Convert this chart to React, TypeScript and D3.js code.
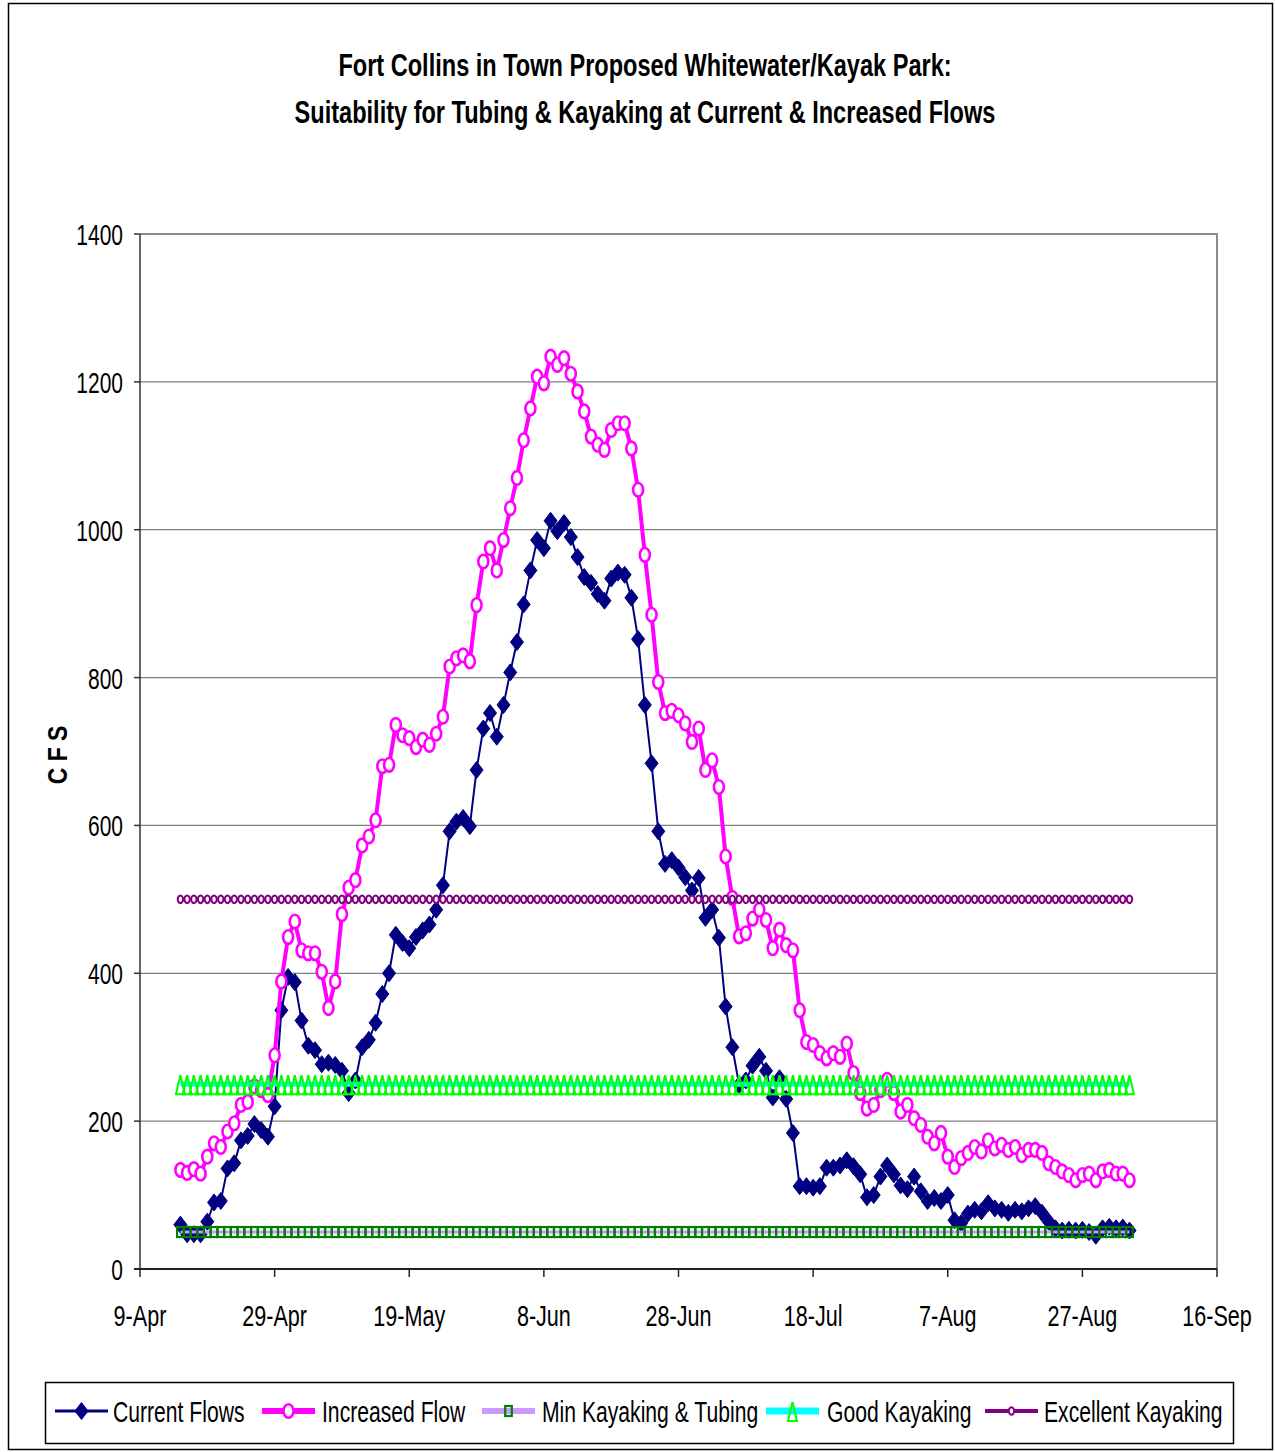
import React from "react";
import * as d3 from "d3";

// Daily flow readings (cfs), starting 15-Apr and running through 3-Sep.
const firstReading = "2007-04-15";
const currentFlows = [
  60, 47, 47, 47, 64, 90, 92, 136, 143, 174,
  180, 196, 188, 179, 220, 350, 395, 388, 336, 302,
  296, 277, 279, 276, 268, 238, 255, 300, 310, 333,
  372, 400, 452, 441, 434, 449, 458, 466, 486, 519,
  592, 605, 610, 599, 675, 731, 752, 720, 763, 807,
  848, 899, 945, 986, 975, 1012, 998, 1009, 990, 963,
  936, 928, 913, 904, 934, 942, 939, 908, 852, 763,
  684, 592, 548, 553, 543, 530, 512, 529, 475, 486,
  448, 355, 300, 249, 255, 275, 287, 268, 232, 258,
  230, 184, 112, 112, 110, 112, 137, 137, 140, 147,
  139, 128, 97, 100, 125, 140, 128, 113, 108, 125,
  105, 92, 96, 92, 100, 66, 62, 75, 80, 78,
  89, 82, 80, 76, 80, 78, 82, 85, 76, 64,
  55, 52, 53, 52, 53, 50, 45, 55, 57, 55,
  56, 52,
];
const increasedFlows = [
  134, 130, 135, 129, 152, 170, 165, 186, 197, 222,
  226, 247, 242, 235, 289, 389, 449, 470, 431, 427,
  427, 402, 353, 389, 480, 516, 526, 573, 585, 607,
  680, 682, 736, 722, 718, 706, 716, 709, 724, 747,
  815, 826, 830, 822, 898, 957, 975, 945, 986, 1029,
  1070, 1121, 1164, 1207, 1198, 1234, 1223, 1232, 1211, 1187,
  1160, 1126, 1115, 1108, 1135, 1144, 1144, 1110, 1054, 966,
  885, 794, 752, 755, 749, 738, 713, 731, 675, 688,
  652, 558, 502, 450, 454, 474, 486, 472, 434, 459,
  438, 431, 350, 307, 303, 292, 285, 292, 287, 305,
  265, 238, 217, 222, 242, 256, 238, 213, 222, 204,
  195, 179, 170, 184, 152, 138, 150, 157, 165, 159,
  174, 163, 168, 161, 165, 154, 161, 161, 157, 143,
  138, 132, 127, 120, 127, 129, 120, 132, 134, 129,
  129, 120,
];

// Suitability thresholds (cfs)
const minKayakingTubing = 50;
const goodKayaking = 250;
const excellentKayaking = 500;

const axisStart = "2007-04-09";
const axisEnd = "2007-09-16";
const xTickLabels = ["9-Apr", "29-Apr", "19-May", "8-Jun", "28-Jun", "18-Jul", "7-Aug", "27-Aug", "16-Sep"];
const yTicks = [0, 200, 400, 600, 800, 1000, 1200, 1400];

const titleLines = [
  "Fort Collins in Town Proposed Whitewater/Kayak Park:",
  "Suitability for Tubing & Kayaking at Current & Increased Flows",
];

const seriesNames = ["Current Flows", "Increased Flow", "Min Kayaking & Tubing", "Good Kayaking", "Excellent Kayaking"];

const W = 1275;
const H = 1452;
const plot = { left: 140, right: 1217, top: 234, bottom: 1269 };
const FONT = "'Liberation Sans', Arial, sans-serif";
const NARROW = 0.72; // horizontal squeeze for axis labels
const TITLE_NARROW = 0.76;
const LEGEND_NARROW = 0.705;

const NAVY = "#000080";
const MAGENTA = "#FF00FF";
const LAVENDER = "#CC99FF";
const GREEN = "#008000";
const LIME = "#00FF00";
const CYAN = "#00FFFF";
const PURPLE = "#800080";

const parse = (s: string) => new Date(s + "T00:00:00Z");

// marker shapes
const diamondPath = "M0,-8.5L6.5,0L0,8.5L-6.5,0Z";
const trianglePath = "M0,-9L4.5,10L-4.5,10Z";

function Diamond({ cx, cy }: { cx: number; cy: number }) {
  return <path d={diamondPath} transform={`translate(${cx},${cy})`} fill={NAVY} stroke={NAVY} strokeWidth={1} />;
}
function BigRing({ cx, cy }: { cx: number; cy: number }) {
  return <ellipse cx={cx} cy={cy} rx={5} ry={6.8} fill="white" stroke={MAGENTA} strokeWidth={2.6} />;
}
function Square({ cx, cy }: { cx: number; cy: number }) {
  return <rect x={cx - 3.3} y={cy - 5} width={6.6} height={10} fill="none" stroke={GREEN} strokeWidth={2.2} />;
}
function Triangle({ cx, cy }: { cx: number; cy: number }) {
  return <path d={trianglePath} transform={`translate(${cx},${cy})`} fill="none" stroke={LIME} strokeWidth={2} />;
}
function SmallRing({ cx, cy }: { cx: number; cy: number }) {
  return <ellipse cx={cx} cy={cy} rx={2.7} ry={3.8} fill="white" stroke={PURPLE} strokeWidth={2} />;
}

export default function App() {
  const x = d3.scaleUtc().domain([parse(axisStart), parse(axisEnd)]).range([plot.left, plot.right]);
  const y = d3.scaleLinear().domain([0, 1400]).range([plot.bottom, plot.top]);

  const start = parse(firstReading);
  const dates = currentFlows.map((_, i) => d3.utcDay.offset(start, i));
  const minSeries = dates.map(() => minKayakingTubing);
  const goodSeries = dates.map(() => goodKayaking);
  const excellentSeries = dates.map(() => excellentKayaking);

  const line = d3
    .line<number>()
    .x((_, i) => x(dates[i]))
    .y((d) => y(d));

  const tickDates = xTickLabels.map((_, i) => d3.utcDay.offset(parse(axisStart), 20 * i));

  const legendY = 1411;
  const legendItems = [
    { x0: 55, tx: 113, color: NAVY, lw: 3, marker: (cx: number) => <Diamond cx={cx} cy={legendY} /> },
    { x0: 262, tx: 322, color: MAGENTA, lw: 6, marker: (cx: number) => <BigRing cx={cx} cy={legendY} /> },
    { x0: 482, tx: 542, color: LAVENDER, lw: 6, marker: (cx: number) => <Square cx={cx} cy={legendY} /> },
    { x0: 766, tx: 827, color: CYAN, lw: 7, marker: (cx: number) => <Triangle cx={cx} cy={legendY} /> },
    { x0: 985, tx: 1044, color: PURPLE, lw: 4, marker: (cx: number) => <SmallRing cx={cx} cy={legendY} /> },
  ];

  return (
    <svg
      width={W}
      height={H}
      viewBox={`0 0 ${W} ${H}`}
      style={{ position: "absolute", left: 0, top: 0, background: "white" }}
      fontFamily={FONT}
    >
      <rect x={0} y={0} width={W} height={H} fill="white" />
      {/* outer chart frame */}
      <rect x={8.5} y={3.5} width={1264} height={1446} fill="none" stroke="#000" strokeWidth={1.5} />

      {/* title */}
      {titleLines.map((t, i) => (
        <text
          key={t}
          transform={`translate(645,${76 + i * 47}) scale(${TITLE_NARROW},1)`}
          textAnchor="middle"
          fontWeight="bold"
          fontSize={31}
          fill="#000"
        >
          {t}
        </text>
      ))}

      {/* gridlines */}
      {yTicks.slice(1, -1).map((v) => (
        <line key={v} x1={plot.left} x2={plot.right} y1={y(v)} y2={y(v)} stroke="#808080" strokeWidth={1.3} />
      ))}
      {/* plot area top/right border */}
      <path
        d={`M${plot.left},${plot.top}H${plot.right}V${plot.bottom}`}
        fill="none"
        stroke="#8c8c8c"
        strokeWidth={2}
      />

      {/* y axis */}
      <line x1={plot.left} x2={plot.left} y1={plot.top} y2={plot.bottom} stroke="#333" strokeWidth={1.5} />
      {yTicks.map((v) => (
        <g key={v}>
          <line x1={plot.left - 6} x2={plot.left} y1={y(v)} y2={y(v)} stroke="#333" strokeWidth={1.5} />
          <text
            transform={`translate(${plot.left - 17},${y(v) + 11}) scale(0.7,1)`}
            textAnchor="end"
            fontSize={30}
            fill="#000"
          >
            {v}
          </text>
        </g>
      ))}
      <text
        transform={`translate(67,755) rotate(-90) scale(0.85,1)`}
        textAnchor="middle"
        fontWeight="bold"
        fontSize={27}
        fill="#000"
      >
        C F S
      </text>

      {/* x axis */}
      <line x1={plot.left - 6} x2={plot.right} y1={plot.bottom} y2={plot.bottom} stroke="#222" strokeWidth={1.8} />
      {tickDates.map((d, i) => (
        <g key={xTickLabels[i]}>
          <line x1={x(d)} x2={x(d)} y1={plot.bottom} y2={plot.bottom + 8} stroke="#222" strokeWidth={1.5} />
          <text
            transform={`translate(${x(d)},${plot.bottom + 57}) scale(${NARROW},1)`}
            textAnchor="middle"
            fontSize={30}
            fill="#000"
          >
            {xTickLabels[i]}
          </text>
        </g>
      ))}

      {/* Current Flows */}
      <path d={line(currentFlows) ?? ""} fill="none" stroke={NAVY} strokeWidth={2} />
      {currentFlows.map((v, i) => (
        <Diamond key={"c" + i} cx={x(dates[i])} cy={y(v)} />
      ))}

      {/* Increased Flow */}
      <path d={line(increasedFlows) ?? ""} fill="none" stroke={MAGENTA} strokeWidth={4} />
      {increasedFlows.map((v, i) => (
        <BigRing key={"i" + i} cx={x(dates[i])} cy={y(v)} />
      ))}

      {/* Min Kayaking & Tubing */}
      <path d={line(minSeries) ?? ""} fill="none" stroke={LAVENDER} strokeWidth={3} />
      {minSeries.map((v, i) => (
        <Square key={"m" + i} cx={x(dates[i])} cy={y(v)} />
      ))}

      {/* Good Kayaking */}
      <path d={line(goodSeries) ?? ""} fill="none" stroke={CYAN} strokeWidth={5} />
      {goodSeries.map((v, i) => (
        <Triangle key={"g" + i} cx={x(dates[i])} cy={y(v)} />
      ))}

      {/* Excellent Kayaking */}
      <path d={line(excellentSeries) ?? ""} fill="none" stroke={PURPLE} strokeWidth={2} />
      {excellentSeries.map((v, i) => (
        <SmallRing key={"e" + i} cx={x(dates[i])} cy={y(v)} />
      ))}

      {/* legend */}
      <rect x={45.5} y={1382.5} width={1188} height={61} fill="white" stroke="#000" strokeWidth={1.5} />
      {legendItems.map((it, i) => (
        <g key={seriesNames[i]}>
          <line x1={it.x0} x2={it.x0 + 53} y1={legendY} y2={legendY} stroke={it.color} strokeWidth={it.lw} />
          {it.marker(it.x0 + 26.5)}
          <text
            transform={`translate(${it.tx},${legendY + 11}) scale(${LEGEND_NARROW},1)`}
            fontSize={30}
            fill="#000"
          >
            {seriesNames[i]}
          </text>
        </g>
      ))}
    </svg>
  );
}
